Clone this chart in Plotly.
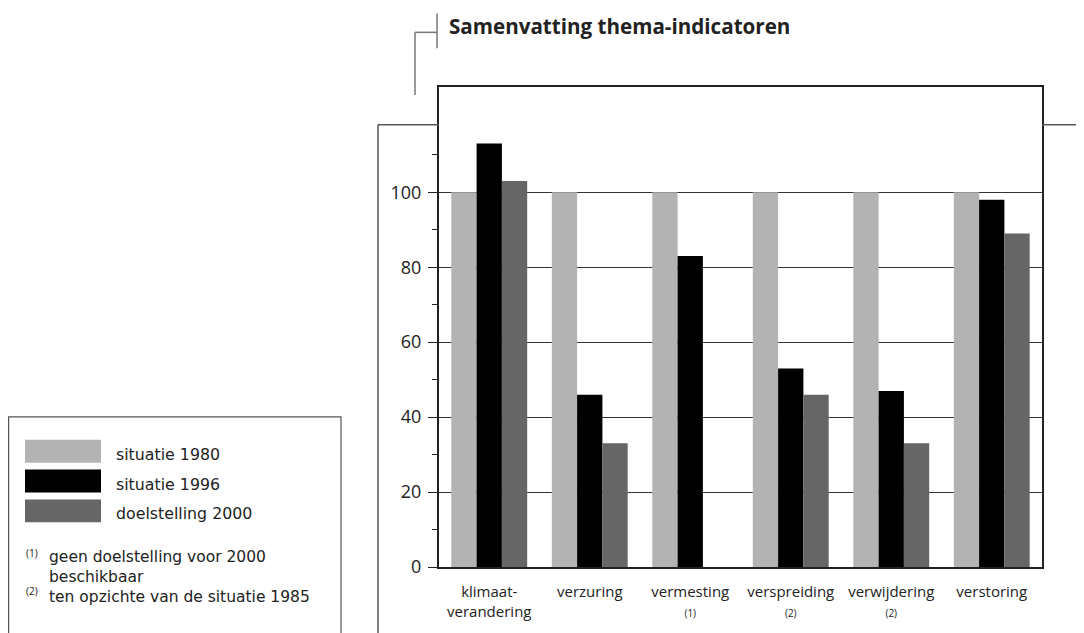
import plotly.graph_objects as go

# ---- data ----
categories = ["klimaat-<br>verandering", "verzuring",
              "vermesting<br><span style='font-size:10px'>(1)</span>",
              "verspreiding<br><span style='font-size:10px'>(2)</span>",
              "verwijdering<br><span style='font-size:10px'>(2)</span>",
              "verstoring"]
cat_keys = ["klimaatverandering", "verzuring", "vermesting", "verspreiding", "verwijdering", "verstoring"]
situatie_1980 = [100, 100, 100, 100, 100, 100]
situatie_1996 = [113, 46, 83, 53, 47, 98]
doelstelling_2000 = [103, 33, None, 46, 33, 89]
series_names = ["situatie 1980", "situatie 1996", "doelstelling 2000"]
series_colors = ["#b3b3b3", "#000000", "#666666"]
y_major = [0, 20, 40, 60, 80, 100]
y_minor = [10, 30, 50, 70, 90, 110]
title_text = "Samenvatting thema-indicatoren"
footnote_marks = ["(1)", "(2)"]
footnote_texts = ["geen doelstelling voor 2000<br>beschikbaar",
                  "ten opzichte van de situatie 1985"]

# ---- geometry (screen pixels; page body has an 8px margin) ----
OFF = 8
SCREEN_W, SCREEN_H = 1084, 633
WIDTH, HEIGHT = SCREEN_W - OFF, SCREEN_H - OFF
PLOT_L, PLOT_R, PLOT_T, PLOT_B = 439, 1042, 87, 570
L = PLOT_L - OFF
R = WIDTH - (PLOT_R - OFF)
T = PLOT_T - OFF
B = HEIGHT - (PLOT_B - OFF)
PW, PH = WIDTH - L - R, HEIGHT - T - B


def px(x):
    return (x - OFF - L) / PW


def py(y):
    return (HEIGHT - B - (y - OFF)) / PH


FONT = "Open Sans"
LEG_FONT = "DejaVu Sans"
TXT = "#222222"

fig = go.Figure()
for name, vals, col in zip(series_names, [situatie_1980, situatie_1996, doelstelling_2000], series_colors):
    fig.add_trace(go.Bar(x=cat_keys, y=vals, name=name, marker=dict(color=col, line=dict(width=0)),
                         showlegend=False))

shapes = []
# title bracket
line_gray = dict(color="#777777", width=1.5)
shapes.append(dict(type="line", xref="paper", yref="paper", x0=px(437), x1=px(437), y0=py(13), y1=py(48), line=line_gray))
shapes.append(dict(type="line", xref="paper", yref="paper", x0=px(415), x1=px(437), y0=py(32), y1=py(32), line=line_gray))
shapes.append(dict(type="line", xref="paper", yref="paper", x0=px(415), x1=px(415), y0=py(32), y1=py(95), line=line_gray))
# outer frame
frame = dict(color="#555555", width=1.5)
shapes.append(dict(type="line", xref="paper", yref="paper", x0=px(378), x1=px(378), y0=py(125), y1=py(640), line=frame))
shapes.append(dict(type="line", xref="paper", yref="paper", x0=px(378), x1=px(439), y0=py(125), y1=py(125), line=frame))
shapes.append(dict(type="line", xref="paper", yref="paper", x0=px(1042), x1=px(1090), y0=py(125), y1=py(125), line=frame))
# legend box
shapes.append(dict(type="rect", xref="paper", yref="paper", x0=px(8.6), x1=px(341), y0=py(419), y1=py(645),
                   line=dict(color="#555555", width=1.2), fillcolor="rgba(0,0,0,0)"))

annotations = []
sw_tops = [442, 472, 502]
for top, name, col in zip(sw_tops, series_names, series_colors):
    shapes.append(dict(type="rect", xref="paper", yref="paper", x0=px(25), x1=px(101), y0=py(top), y1=py(top + 23),
                       line=dict(width=0), fillcolor=col))
    annotations.append(dict(xref="paper", yref="paper", x=px(114), y=py(top + 14.5), text=name, showarrow=False,
                            xanchor="left", yanchor="middle", font=dict(family=LEG_FONT, size=15.8, color=TXT)))

# footnotes
mark_y = [556, 594]
text_y = [570, 600]
for mark, txt, ym, yt in zip(footnote_marks, footnote_texts, mark_y, text_y):
    annotations.append(dict(xref="paper", yref="paper", x=px(24), y=py(ym), text=mark, showarrow=False,
                            xanchor="left", yanchor="middle", font=dict(family=FONT, size=10, color=TXT)))
    annotations.append(dict(xref="paper", yref="paper", x=px(47), y=py(yt), text=txt, showarrow=False,
                            xanchor="left", yanchor="middle", align="left",
                            font=dict(family=LEG_FONT, size=15.5, color=TXT)))

# title
annotations.append(dict(xref="paper", yref="paper", x=px(447), y=py(26), text="<b>" + title_text + "</b>",
                        showarrow=False, xanchor="left", yanchor="middle",
                        font=dict(family=FONT, size=20.6, color=TXT)))

fig.update_layout(
    width=WIDTH, height=HEIGHT,
    margin=dict(l=L, r=R, t=T, b=B, pad=0),
    paper_bgcolor="white", plot_bgcolor="white",
    barmode="group", bargap=0.245, bargroupgap=0,
    shapes=shapes, annotations=annotations,
    showlegend=False,
    font=dict(family=FONT, color=TXT),
)
fig.update_xaxes(
    tickmode="array", tickvals=cat_keys, ticktext=categories,
    showline=True, linecolor="#222222", linewidth=2, mirror=True,
    ticks="", ticklabelstandoff=10, showgrid=False,
    tickfont=dict(family=FONT, size=15, color=TXT),
)
fig.update_yaxes(
    range=[0, 128.1], tickmode="array", tickvals=y_major, ticktext=[str(v) for v in y_major],
    showline=True, linecolor="#222222", linewidth=2, mirror=True,
    ticks="outside", ticklen=9, tickwidth=1, tickcolor="#222222",
    minor=dict(tickmode="array", tickvals=y_minor, ticks="outside", ticklen=5, tickwidth=1, tickcolor="#222222",
               showgrid=False),
    showgrid=True, gridcolor="#333333", gridwidth=1, zeroline=False,
    tickfont=dict(family=FONT, size=18, color=TXT), ticklabelstandoff=3,
)

fig.write_html("out.html")
